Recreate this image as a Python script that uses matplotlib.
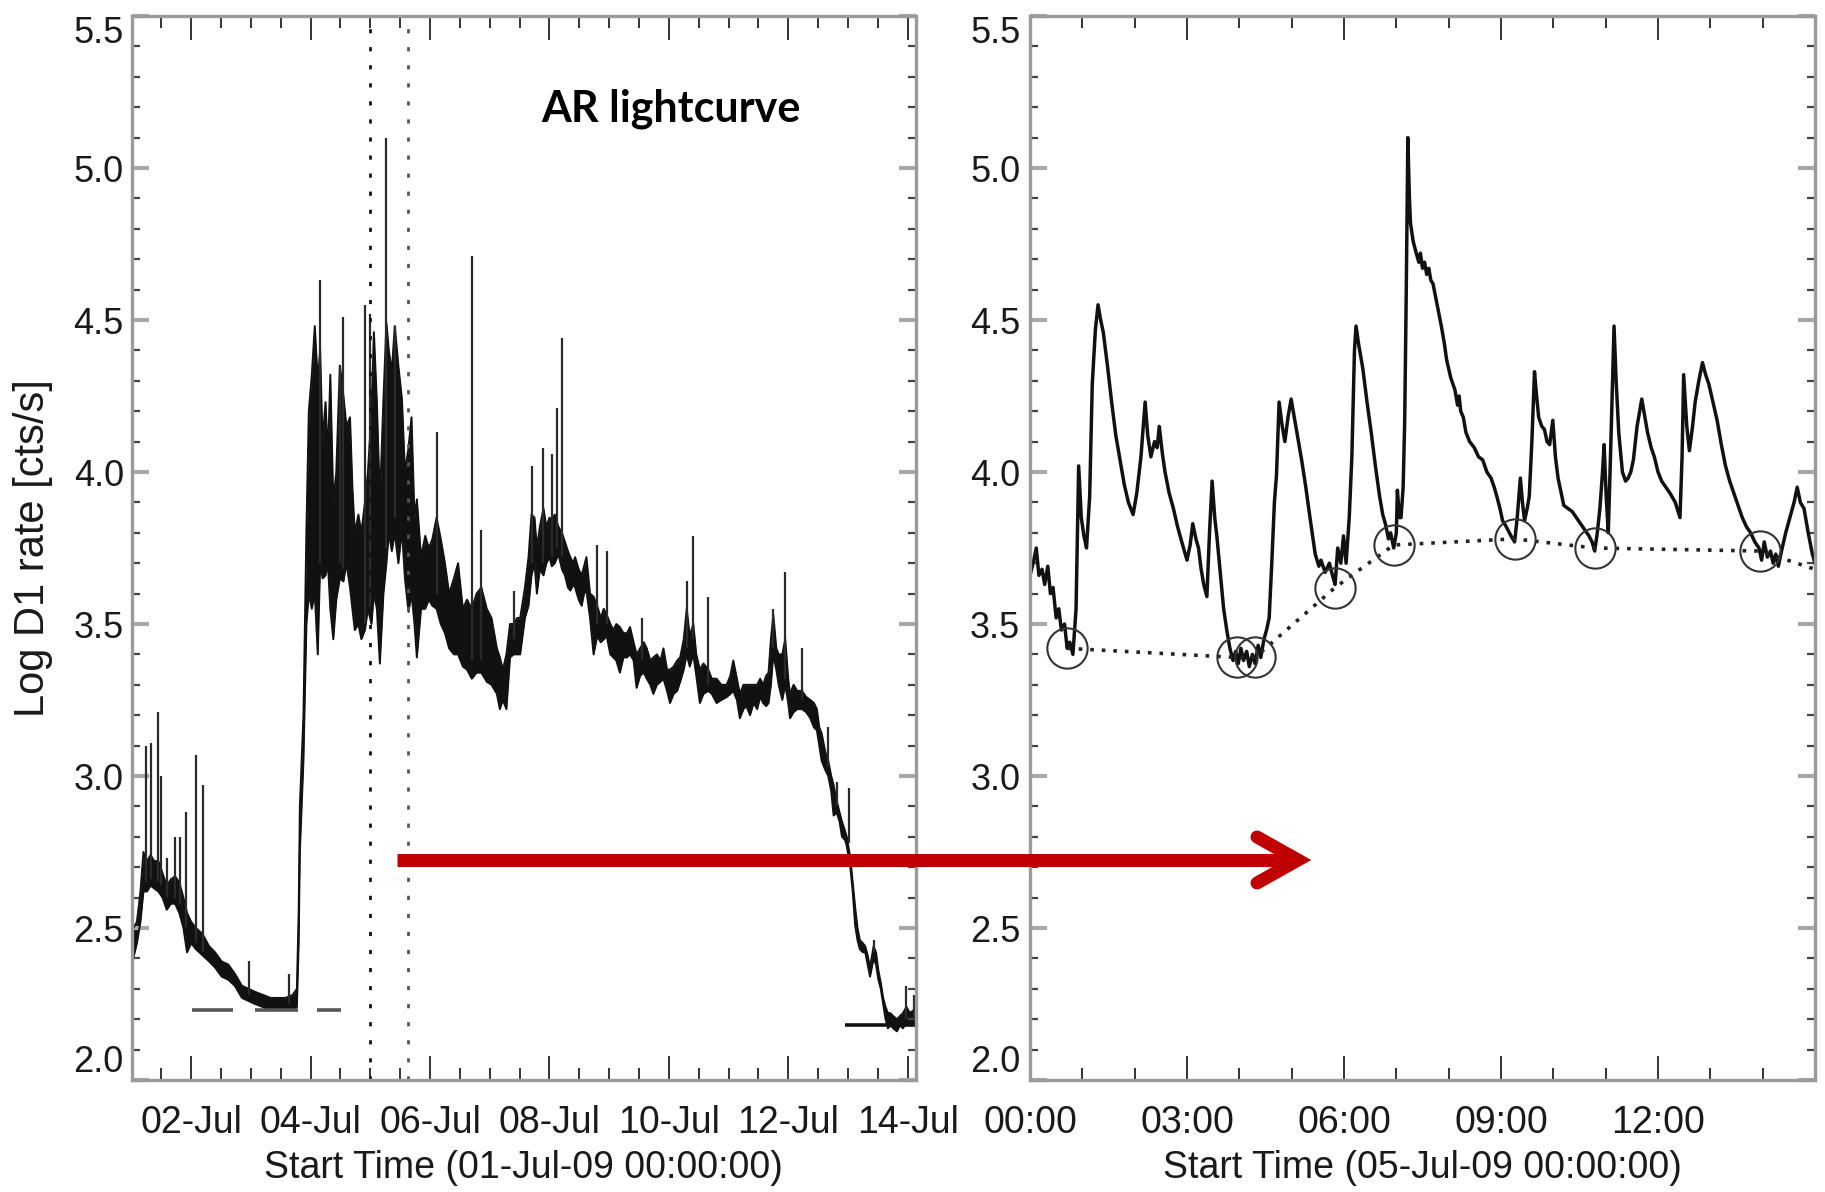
import matplotlib
matplotlib.use('Agg')
import matplotlib.pyplot as plt
from matplotlib.lines import Line2D
from matplotlib.ticker import MultipleLocator

plt.rcParams['font.family'] = ['Liberation Sans', 'DejaVu Sans']

# ---- left panel: AR lightcurve, days since 01-Jul-09 00:00 ----
day_t = [0.03, 0.09, 0.15, 0.20, 0.26, 0.32, 0.38, 0.45, 0.52, 0.59, 0.66, 0.73, 0.80, 0.87, 0.93,
         1.00, 1.08, 1.19, 1.30, 1.40, 1.51, 1.62, 1.73, 1.85, 1.96, 2.07, 2.20, 2.33, 2.46, 2.58,
         2.70, 2.77, 2.80, 2.82, 2.88, 2.93, 2.97, 3.02, 3.07, 3.12, 3.16, 3.20, 3.25, 3.29, 3.33,
         3.38, 3.43, 3.49, 3.55, 3.60, 3.66, 3.70, 3.74, 3.80, 3.85, 3.91, 3.96, 4.02, 4.06, 4.11,
         4.16, 4.22, 4.27, 4.31, 4.36, 4.41, 4.47, 4.53, 4.58, 4.64, 4.69, 4.74, 4.78, 4.85, 4.92,
         4.98, 5.04, 5.11, 5.18, 5.25, 5.32, 5.40, 5.47, 5.55, 5.62, 5.70, 5.78, 5.86, 5.95, 6.03,
         6.12, 6.17, 6.22, 6.28, 6.34, 6.40, 6.46, 6.51, 6.59, 6.65, 6.70, 6.75, 6.79, 6.84, 6.90,
         6.95, 7.00, 7.04, 7.09, 7.15, 7.21, 7.26, 7.31, 7.35, 7.40, 7.43, 7.49, 7.54, 7.58, 7.62,
         7.68, 7.74, 7.80, 7.86, 7.91, 7.96, 8.02, 8.07, 8.12, 8.18, 8.24, 8.30, 8.35, 8.41, 8.46,
         8.52, 8.58, 8.63, 8.69, 8.74, 8.80, 8.86, 8.91, 8.97, 9.02, 9.08, 9.14, 9.19, 9.25, 9.30,
         9.35, 9.41, 9.46, 9.52, 9.58, 9.66, 9.72, 9.80, 9.88, 9.97, 10.03, 10.08, 10.14, 10.19, 10.25,
         10.30, 10.36, 10.42, 10.48, 10.53, 10.58, 10.63, 10.67, 10.71, 10.75, 10.80, 10.84, 10.90, 10.95, 11.00,
         11.03, 11.09, 11.15, 11.23, 11.30, 11.37, 11.43, 11.48, 11.52, 11.56, 11.62, 11.67, 11.72, 11.76, 11.81,
         11.86, 11.90, 11.95, 11.98, 12.04, 12.08, 12.12, 12.16, 12.20, 12.25, 12.29, 12.33, 12.37, 12.43, 12.47,
         12.51, 12.55, 12.59, 12.63, 12.67, 12.71, 12.76, 12.82, 12.87, 12.92, 12.98, 13.04, 13.10, 13.14]
day_lo = [2.40, 2.45, 2.52, 2.62, 2.62, 2.64, 2.63, 2.62, 2.60, 2.56, 2.58, 2.58, 2.55, 2.50, 2.42,
          2.45, 2.43, 2.41, 2.39, 2.37, 2.34, 2.33, 2.31, 2.27, 2.26, 2.25, 2.24, 2.23, 2.23, 2.23,
          2.23, 2.24, 2.45, 2.75, 3.05, 3.50, 3.60, 3.55, 3.60, 3.40, 3.70, 3.65, 3.66, 3.70, 3.55,
          3.45, 3.58, 3.65, 3.64, 3.70, 3.62, 3.55, 3.48, 3.50, 3.45, 3.48, 3.55, 3.50, 3.60, 3.55,
          3.37, 3.60, 3.70, 3.80, 3.74, 3.80, 3.70, 3.81, 3.65, 3.54, 3.60, 3.50, 3.39, 3.55, 3.55,
          3.58, 3.56, 3.55, 3.50, 3.47, 3.42, 3.40, 3.40, 3.36, 3.35, 3.32, 3.34, 3.34, 3.31, 3.30,
          3.27, 3.22, 3.25, 3.22, 3.39, 3.40, 3.40, 3.40, 3.52, 3.56, 3.66, 3.70, 3.60, 3.68, 3.66,
          3.70, 3.72, 3.69, 3.70, 3.73, 3.68, 3.66, 3.62, 3.61, 3.63, 3.62, 3.58, 3.56, 3.60, 3.61,
          3.52, 3.40, 3.46, 3.44, 3.45, 3.46, 3.40, 3.39, 3.38, 3.34, 3.39, 3.39, 3.40, 3.38, 3.29,
          3.33, 3.34, 3.32, 3.30, 3.27, 3.30, 3.31, 3.32, 3.28, 3.24, 3.27, 3.28, 3.31, 3.35, 3.40,
          3.36, 3.40, 3.33, 3.24, 3.27, 3.28, 3.27, 3.24, 3.25, 3.26, 3.27, 3.28, 3.25, 3.19, 3.22,
          3.23, 3.20, 3.24, 3.22, 3.26, 3.24, 3.23, 3.24, 3.30, 3.40, 3.35, 3.30, 3.25, 3.30, 3.24,
          3.19, 3.21, 3.22, 3.22, 3.21, 3.19, 3.16, 3.15, 3.10, 3.05, 3.02, 3.00, 2.95, 2.87, 2.88,
          2.85, 2.80, 2.79, 2.77, 2.70, 2.62, 2.51, 2.46, 2.43, 2.42, 2.42, 2.38, 2.34, 2.40, 2.38,
          2.33, 2.30, 2.25, 2.20, 2.17, 2.18, 2.17, 2.16, 2.18, 2.17, 2.19, 2.18, 2.18, 2.19]
day_hi = [2.50, 2.52, 2.62, 2.75, 2.72, 2.74, 2.72, 2.72, 2.68, 2.64, 2.66, 2.67, 2.65, 2.60, 2.55,
          2.52, 2.50, 2.48, 2.44, 2.42, 2.39, 2.38, 2.35, 2.31, 2.30, 2.29, 2.28, 2.27, 2.27, 2.27,
          2.28, 2.30, 2.55, 2.90, 3.20, 3.81, 4.20, 4.32, 4.48, 4.30, 4.40, 4.10, 4.23, 4.05, 4.32,
          3.90, 4.00, 4.35, 4.25, 4.15, 4.18, 3.95, 3.80, 3.86, 3.80, 3.90, 4.00, 4.20, 4.46, 4.23,
          3.90, 4.24, 4.49, 4.40, 4.33, 4.48, 4.35, 4.24, 4.00, 4.08, 4.18, 3.85, 3.91, 3.72, 3.79,
          3.75, 3.78, 3.85, 3.78, 3.70, 3.60, 3.65, 3.70, 3.55, 3.58, 3.55, 3.60, 3.62, 3.55, 3.52,
          3.42, 3.39, 3.35, 3.40, 3.50, 3.50, 3.52, 3.52, 3.62, 3.72, 3.86, 3.85, 3.75, 3.82, 3.88,
          3.82, 3.85, 3.84, 3.86, 3.82, 3.80, 3.77, 3.74, 3.72, 3.70, 3.72, 3.68, 3.66, 3.69, 3.72,
          3.60, 3.59, 3.56, 3.52, 3.55, 3.53, 3.50, 3.48, 3.50, 3.49, 3.47, 3.47, 3.49, 3.44, 3.40,
          3.42, 3.44, 3.42, 3.38, 3.39, 3.40, 3.38, 3.42, 3.35, 3.35, 3.36, 3.38, 3.39, 3.45, 3.55,
          3.46, 3.50, 3.40, 3.35, 3.37, 3.35, 3.32, 3.32, 3.30, 3.30, 3.33, 3.38, 3.32, 3.27, 3.30,
          3.30, 3.30, 3.30, 3.30, 3.32, 3.30, 3.33, 3.34, 3.45, 3.53, 3.42, 3.40, 3.40, 3.45, 3.32,
          3.27, 3.30, 3.28, 3.28, 3.26, 3.25, 3.24, 3.22, 3.16, 3.14, 3.08, 3.05, 3.00, 2.97, 2.92,
          2.88, 2.85, 2.82, 2.80, 2.73, 2.65, 2.57, 2.50, 2.46, 2.45, 2.44, 2.41, 2.37, 2.44, 2.42,
          2.36, 2.32, 2.27, 2.24, 2.22, 2.22, 2.21, 2.20, 2.21, 2.22, 2.24, 2.22, 2.23, 2.23]

# short flare spikes sticking out of the band
spike_t = [0.25, 0.33, 0.45, 0.49, 0.59, 0.73, 0.82, 0.92, 1.08, 1.19, 1.96, 2.63,
           3.16, 3.49, 3.55, 3.91, 4.00, 4.27, 4.41, 5.11, 5.70, 5.86, 6.40, 6.70,
           6.90, 7.04, 7.12, 7.21, 7.79, 7.96, 8.55, 9.30, 9.41, 9.66, 10.75, 10.95,
           11.23, 11.67, 11.81, 12.01, 12.43, 12.98, 13.10]
spike_lo = [2.65, 2.66, 2.65, 2.64, 2.60, 2.60, 2.58, 2.50, 2.45, 2.42, 2.28, 2.25,
            3.70, 3.70, 3.68, 3.50, 3.55, 3.75, 3.85, 3.60, 3.38, 3.38, 3.45, 3.70,
            3.70, 3.72, 3.75, 3.72, 3.50, 3.50, 3.38, 3.42, 3.45, 3.30, 3.42, 3.32,
            3.25, 3.03, 2.90, 2.78, 2.42, 2.20, 2.20]
spike_hi = [3.10, 3.11, 3.21, 3.00, 2.73, 2.80, 2.80, 2.88, 3.07, 2.97, 2.39, 2.35,
            4.63, 4.35, 4.51, 4.55, 4.52, 5.10, 4.48, 4.13, 4.71, 3.81, 3.61, 4.02,
            4.08, 4.06, 4.21, 4.44, 3.76, 3.74, 3.52, 3.64, 3.79, 3.59, 3.55, 3.67,
            3.42, 3.16, 2.98, 2.96, 2.46, 2.31, 2.28]

# background level markers
bg_start = [1.01, 2.07, 3.10, 11.95]
bg_end = [1.70, 2.79, 3.51, 13.14]
bg_level = [2.23, 2.23, 2.23, 2.18]

zoom_days = [4.0, 4.625]
day_ticks = [1, 3, 5, 7, 9, 11, 13]
day_labels = ['02-Jul', '04-Jul', '06-Jul', '08-Jul', '10-Jul', '12-Jul', '14-Jul']

# ---- right panel: hours since 05-Jul-09 00:00 ----
hr_t = [0.00, 0.06, 0.12, 0.17, 0.23, 0.28, 0.34, 0.39, 0.44, 0.50, 0.55, 0.60, 0.66, 0.71, 0.76,
        0.82, 0.88, 0.93, 0.98, 1.03, 1.08, 1.14, 1.19, 1.25, 1.30, 1.35, 1.40, 1.48, 1.56, 1.64,
        1.72, 1.80, 1.88, 1.97, 2.04, 2.12, 2.20, 2.25, 2.31, 2.38, 2.43, 2.47, 2.53, 2.58, 2.66,
        2.74, 2.82, 2.90, 3.00, 3.06, 3.11, 3.17, 3.22, 3.27, 3.32, 3.38, 3.43, 3.48, 3.53, 3.57,
        3.64, 3.70, 3.76, 3.82, 3.88, 3.93, 3.98, 4.03, 4.08, 4.14, 4.19, 4.25, 4.30, 4.36, 4.41,
        4.47, 4.52, 4.57, 4.62, 4.67, 4.71, 4.76, 4.82, 4.87, 4.93, 4.99, 5.08, 5.19, 5.27, 5.35,
        5.45, 5.52, 5.56, 5.64, 5.72, 5.78, 5.83, 5.88, 5.94, 5.99, 6.04, 6.10, 6.15, 6.20, 6.23,
        6.28, 6.36, 6.44, 6.52, 6.60, 6.68, 6.74, 6.79, 6.85, 6.89, 6.95, 7.00, 7.02, 7.06, 7.09,
        7.13, 7.16, 7.19, 7.22, 7.25, 7.27, 7.32, 7.38, 7.43, 7.46, 7.50, 7.54, 7.58, 7.62, 7.66,
        7.70, 7.78, 7.86, 7.92, 7.96, 8.04, 8.12, 8.17, 8.20, 8.23, 8.28, 8.33, 8.40, 8.49, 8.57,
        8.65, 8.73, 8.81, 8.87, 8.92, 8.98, 9.03, 9.10, 9.19, 9.26, 9.31, 9.37, 9.41, 9.45, 9.50,
        9.54, 9.59, 9.64, 9.68, 9.72, 9.78, 9.83, 9.88, 9.93, 9.99, 10.04, 10.09, 10.15, 10.20, 10.28,
        10.36, 10.44, 10.52, 10.60, 10.68, 10.74, 10.79, 10.84, 10.89, 10.94, 10.97, 11.01, 11.05, 11.10, 11.16,
        11.20, 11.25, 11.32, 11.38, 11.43, 11.48, 11.53, 11.60, 11.69, 11.75, 11.80, 11.87, 11.93, 12.00, 12.07,
        12.15, 12.23, 12.33, 12.42, 12.46, 12.49, 12.55, 12.60, 12.66, 12.71, 12.78, 12.85, 12.91, 12.97, 13.05,
        13.13, 13.21, 13.29, 13.37, 13.45, 13.53, 13.61, 13.69, 13.77, 13.85, 13.93, 13.98, 14.03, 14.09, 14.15,
        14.20, 14.25, 14.30, 14.36, 14.44, 14.52, 14.60, 14.66, 14.72, 14.79, 14.87, 14.95, 15.00]
hr_v = [3.66, 3.70, 3.75, 3.66, 3.68, 3.63, 3.69, 3.60, 3.62, 3.52, 3.55, 3.48, 3.50, 3.42, 3.44,
        3.40, 3.55, 4.02, 3.85, 3.79, 3.75, 3.92, 4.29, 4.47, 4.55, 4.50, 4.46, 4.35, 4.23, 4.12,
        4.04, 3.96, 3.90, 3.86, 3.93, 4.05, 4.23, 4.12, 4.05, 4.10, 4.08, 4.15, 4.06, 4.00, 3.93,
        3.88, 3.82, 3.77, 3.71, 3.76, 3.83, 3.78, 3.75, 3.68, 3.63, 3.59, 3.80, 3.97, 3.85, 3.79,
        3.66, 3.55, 3.48, 3.42, 3.38, 3.41, 3.37, 3.42, 3.38, 3.41, 3.36, 3.40, 3.37, 3.43, 3.39,
        3.45, 3.48, 3.52, 3.70, 3.90, 3.99, 4.23, 4.15, 4.10, 4.18, 4.24, 4.15, 4.04, 3.95, 3.85,
        3.73, 3.69, 3.71, 3.67, 3.70, 3.66, 3.63, 3.75, 3.70, 3.79, 3.70, 3.85, 4.05, 4.40, 4.48,
        4.42, 4.34, 4.23, 4.13, 4.02, 3.92, 3.86, 3.83, 3.78, 3.80, 3.75, 3.80, 3.94, 3.85, 3.85,
        3.95, 4.17, 4.60, 5.10, 4.90, 4.82, 4.76, 4.72, 4.69, 4.72, 4.67, 4.69, 4.65, 4.67, 4.63,
        4.62, 4.55, 4.48, 4.42, 4.37, 4.31, 4.27, 4.22, 4.25, 4.20, 4.18, 4.13, 4.10, 4.08, 4.05,
        4.04, 4.00, 3.98, 3.95, 3.92, 3.88, 3.84, 3.82, 3.79, 3.77, 3.85, 3.98, 3.90, 3.84, 3.88,
        3.92, 4.10, 4.33, 4.25, 4.18, 4.15, 4.14, 4.10, 4.09, 4.17, 4.05, 3.98, 3.93, 3.89, 3.88,
        3.87, 3.85, 3.83, 3.81, 3.79, 3.77, 3.74, 3.80, 3.88, 4.00, 4.09, 3.92, 3.80, 4.10, 4.48,
        4.30, 4.13, 4.00, 3.97, 3.98, 4.00, 4.04, 4.15, 4.24, 4.18, 4.13, 4.08, 4.05, 4.00, 3.97,
        3.95, 3.93, 3.90, 3.85, 4.05, 4.32, 4.15, 4.07, 4.15, 4.23, 4.30, 4.36, 4.32, 4.29, 4.23,
        4.17, 4.09, 4.02, 3.97, 3.93, 3.89, 3.85, 3.82, 3.80, 3.77, 3.75, 3.71, 3.77, 3.72, 3.74,
        3.70, 3.73, 3.69, 3.74, 3.80, 3.85, 3.90, 3.95, 3.90, 3.88, 3.80, 3.73, 3.70]

# background minima (circled) and the dotted background curve through them
min_t = [0.71, 3.95, 4.30, 5.83, 6.95, 9.26, 10.79, 13.95]
min_v = [3.42, 3.39, 3.39, 3.62, 3.76, 3.78, 3.75, 3.74]
bgcurve_t = [0.71, 3.95, 4.30, 5.83, 6.95, 9.26, 10.79, 13.95, 15.0]
bgcurve_v = [3.42, 3.39, 3.39, 3.62, 3.76, 3.78, 3.75, 3.74, 3.68]

hr_ticks = [0, 3, 6, 9, 12]
hr_labels = ['00:00', '03:00', '06:00', '09:00', '12:00']

y_ticks = [2.0, 2.5, 3.0, 3.5, 4.0, 4.5, 5.0, 5.5]
y_labels = ['2.0', '2.5', '3.0', '3.5', '4.0', '4.5', '5.0', '5.5']

W, H = 1825, 1192


def px(x, y):
    """pixel position of the reference -> figure fraction"""
    return x / W, 1 - y / H


def style_axes(ax, ypad):
    ax.set_ylim(2.0, 5.5)
    ax.set_yticks(y_ticks, y_labels)
    ax.yaxis.set_minor_locator(MultipleLocator(0.1))
    ax.tick_params(axis='both', which='both', direction='in', top=True, right=True)
    ax.tick_params(axis='x', which='major', length=17, width=1.4, color='#333333',
                   labelsize=27, pad=18, labelcolor='#1a1a1a')
    ax.tick_params(axis='x', which='minor', length=8.5, width=1.4, color='#333333')
    ax.tick_params(axis='y', which='major', length=12, width=3, color='#a8a8a8',
                   labelsize=26, pad=ypad, labelcolor='#1a1a1a')
    ax.tick_params(axis='y', which='minor', length=6, width=1.6, color='#444444')
    for sp in ax.spines.values():
        sp.set_color('#9a9a9a')
        sp.set_linewidth(2.4)
    ticks = ax.yaxis.get_major_ticks()
    ticks[0].label1.set_va('bottom')
    ticks[-1].label1.set_va('top')


fig = plt.figure(figsize=(W / 100, H / 100), dpi=100)
fig.patch.set_facecolor('white')

ax1 = fig.add_axes([131.5 / W, 1 - 1080 / H, 784.5 / W, 1064 / H])
ax2 = fig.add_axes([1030 / W, 1 - 1080 / H, 785 / W, 1064 / H])

# left: full AR lightcurve
ax1.fill_between(day_t, day_lo, day_hi, color='#111111', lw=0)
ax1.plot(day_t, day_lo, color='#111111', lw=1.4)
ax1.plot(day_t, day_hi, color='#111111', lw=1.4)
ax1.vlines(spike_t, spike_lo, spike_hi, color='#2a2a2a', lw=1.6)
ax1.hlines(bg_level[:3], bg_start[:3], bg_end[:3], color='#555555', lw=2.6)
ax1.hlines(bg_level[3:], bg_start[3:], bg_end[3:], color='#111111', lw=2.6)
for d, c in zip(zoom_days, ['#111111', '#555555']):
    ax1.axvline(d, color=c, lw=2, ls=(0, (1.5, 5)))
ax1.set_xlim(0, 13.14)
ax1.set_xticks(day_ticks, day_labels)
ax1.xaxis.set_minor_locator(MultipleLocator(0.5))
style_axes(ax1, 5.5)
ax1.set_xlabel('Start Time (01-Jul-09 00:00:00)', fontsize=27, color='#1a1a1a')
ax1.xaxis.set_label_coords(0.5, -0.083)
ax1.xaxis.label.set_va('center')
ax1.set_ylabel('Log D1 rate [cts/s]', fontsize=30, color='#1a1a1a')
ax1.yaxis.set_label_coords(-0.126, 0.5)
ax1.yaxis.label.set_va('center')

# right: zoom on 05-Jul
ax2.plot(hr_t, hr_v, color='#111111', lw=2.5)
ax2.plot(bgcurve_t, bgcurve_v, color='#222222', lw=2.6, ls=(0, (1, 2.2)))
ax2.plot(min_t, min_v, 'o', mfc='none', mec='#333333', mew=1.5, ms=29)
ax2.set_xlim(0, 15)
ax2.set_xticks(hr_ticks, hr_labels)
ax2.xaxis.set_minor_locator(MultipleLocator(1))
style_axes(ax2, 7)
ax2.set_xlabel('Start Time (05-Jul-09 00:00:00)', fontsize=27, color='#1a1a1a')
ax2.xaxis.set_label_coords(0.5, -0.083)
ax2.xaxis.label.set_va('center')

# annotation text and red arrow
fig.text(*px(671, 109), 'AR lightcurve', family=['Lato', 'DejaVu Sans'],
         fontweight='bold', fontsize=31, ha='center', va='center')

red = '#C00000'
lw_arrow = 13 * 72 / 100
x0, y0 = px(397, 860)
x1, _ = px(1290, 860)
fig.add_artist(Line2D([x0, x1], [y0, y0], transform=fig.transFigure, color=red,
                      lw=lw_arrow, solid_capstyle='butt', zorder=10))
hx, hy = zip(px(1257, 837), px(1298, 860), px(1257, 883))
fig.add_artist(Line2D(hx, hy, transform=fig.transFigure, color=red, lw=lw_arrow,
                      solid_capstyle='round', solid_joinstyle='miter', zorder=10))

fig.savefig('out.png', dpi=100, facecolor='white')
